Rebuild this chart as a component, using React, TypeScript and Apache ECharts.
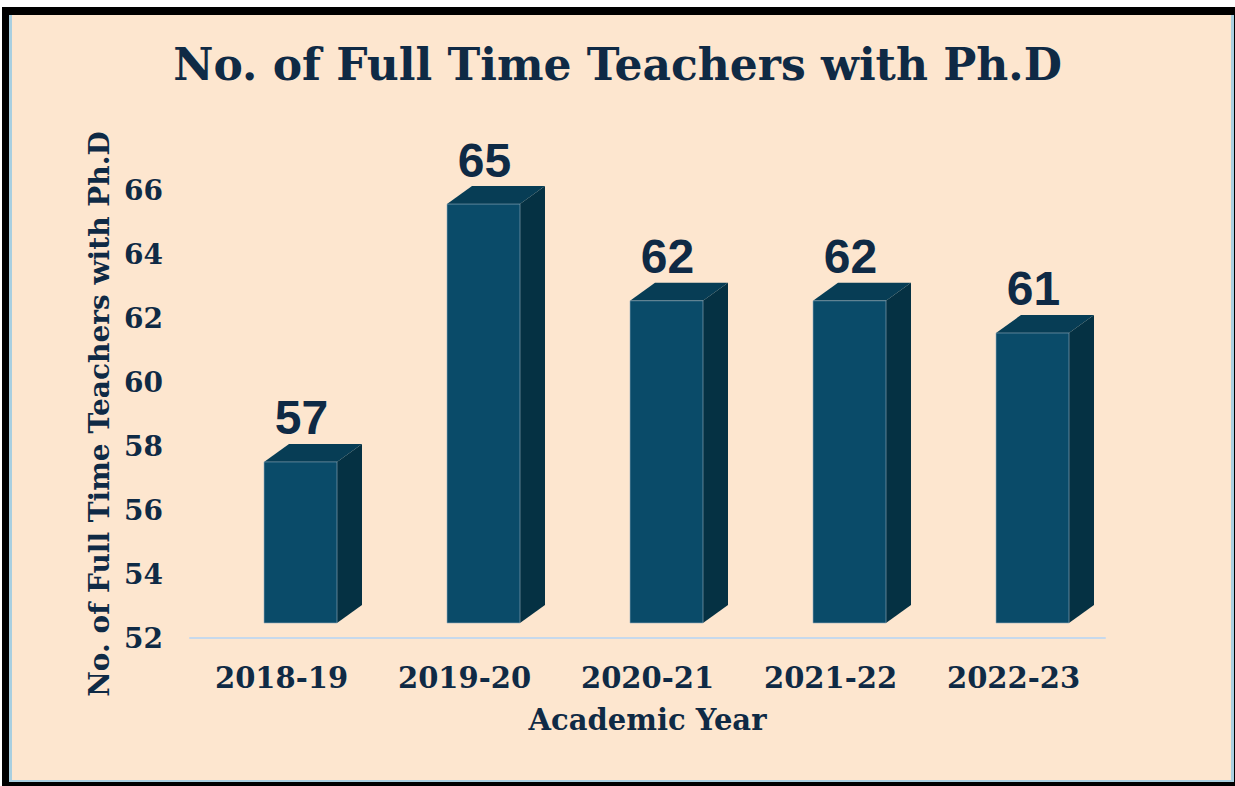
import React, { useEffect, useRef } from "react";
import * as echarts from "echarts";

const categories = ["2018-19", "2019-20", "2020-21", "2021-22", "2022-23"];
const teachers = [57, 65, 62, 62, 61];
const yMin = 52;
const yMax = 66;
const yInterval = 2;

const TEXT = "#0f2a45";
const SERIF = "'DejaVu Serif', 'Liberation Serif', serif";

export default function App() {
  const ref = useRef<HTMLDivElement>(null);
  useEffect(() => {
    if (!ref.current) return;
    const chart = echarts.init(ref.current, null, { renderer: "svg" });
    const shiftX = 19;
    const halfW = 36.5;
    const lift = 15;
    const dx = 25;
    const dy = 18;
    chart.setOption({
      animation: false,
      backgroundColor: "transparent",
      title: {
        text: "No. of Full Time Teachers with Ph.D",
        left: "center",
        top: 37,
        textStyle: { fontFamily: SERIF, fontWeight: "bold", fontSize: 44, color: TEXT },
      },
      grid: { left: 190, right: 130, top: 190, bottom: 148 },
      xAxis: {
        type: "category",
        data: categories,
        axisLine: { lineStyle: { color: "#c7d9ec", width: 2 } },
        axisTick: { show: false },
        axisLabel: { fontFamily: SERIF, fontWeight: "bold", fontSize: 29, color: TEXT, margin: 25 },
        name: "Academic Year",
        nameLocation: "middle",
        nameGap: 67,
        nameTextStyle: { fontFamily: SERIF, fontWeight: "bold", fontSize: 29, color: TEXT },
      },
      yAxis: {
        type: "value",
        min: yMin,
        max: yMax,
        interval: yInterval,
        axisLine: { show: false },
        axisTick: { show: false },
        splitLine: { show: false },
        axisLabel: { fontFamily: SERIF, fontWeight: "bold", fontSize: 28, color: TEXT, margin: 27 },
        name: "No. of Full Time Teachers with Ph.D",
        nameLocation: "middle",
        nameGap: 74,
        nameTextStyle: { fontFamily: SERIF, fontWeight: "bold", fontSize: 28, color: TEXT },
      },
      series: [
        {
          type: "custom",
          data: teachers.map((v, i) => [i, v]),
          encode: { x: 0, y: 1 },
          renderItem: (params: any, api: any) => {
            const i = api.value(0);
            const v = api.value(1);
            const base = api.coord([i, yMin]);
            const top = api.coord([i, v]);
            const cx = base[0] + shiftX;
            const x0 = cx - halfW;
            const x1 = cx + halfW;
            const yB = base[1] - lift;
            const yT = yB - (base[1] - top[1]) * 1.007;
            return {
              type: "group",
              children: [
                {
                  type: "polygon",
                  shape: { points: [[x1, yT], [x1 + dx, yT - dy], [x1 + dx, yB - dy], [x1, yB]] },
                  style: { fill: "#053143" },
                },
                {
                  type: "polygon",
                  shape: { points: [[x0, yT], [x1, yT], [x1 + dx, yT - dy], [x0 + dx, yT - dy]] },
                  style: { fill: "#073d55" },
                },
                {
                  type: "rect",
                  shape: { x: x0, y: yT, width: x1 - x0, height: yB - yT },
                  style: { fill: "#0a4b69", stroke: "rgba(150,175,190,0.6)", lineWidth: 1 },
                },
                {
                  type: "text",
                  x: cx + 1,
                  y: yT - dy - 2,
                  style: {
                    text: String(v),
                    fontFamily: "'Liberation Sans', Arial, sans-serif",
                    fontWeight: "bold",
                    fontSize: 48,
                    fill: TEXT,
                    align: "center",
                    verticalAlign: "bottom",
                  },
                },
              ],
            };
          },
        },
      ],
    });
    return () => chart.dispose();
  }, []);

  return (
    <div style={{ position: "fixed", left: 0, top: 0, width: 1235, height: 786, background: "#ffffff" }}>
      <div style={{ position: "absolute", left: 2, top: 7, width: 1233, height: 779, background: "#000000" }} />
      <div
        style={{
          position: "absolute",
          left: 9,
          top: 15,
          width: 1219,
          height: 765,
          background: "#fde6cf",
          borderLeft: "3px solid #a9cfe0",
          borderRight: "3px solid #a9cfe0",
          borderBottom: "2px solid #a9cfe0",
        }}
      />
      <div ref={ref} style={{ position: "absolute", left: 0, top: 0, width: 1235, height: 786 }} />
    </div>
  );
}
